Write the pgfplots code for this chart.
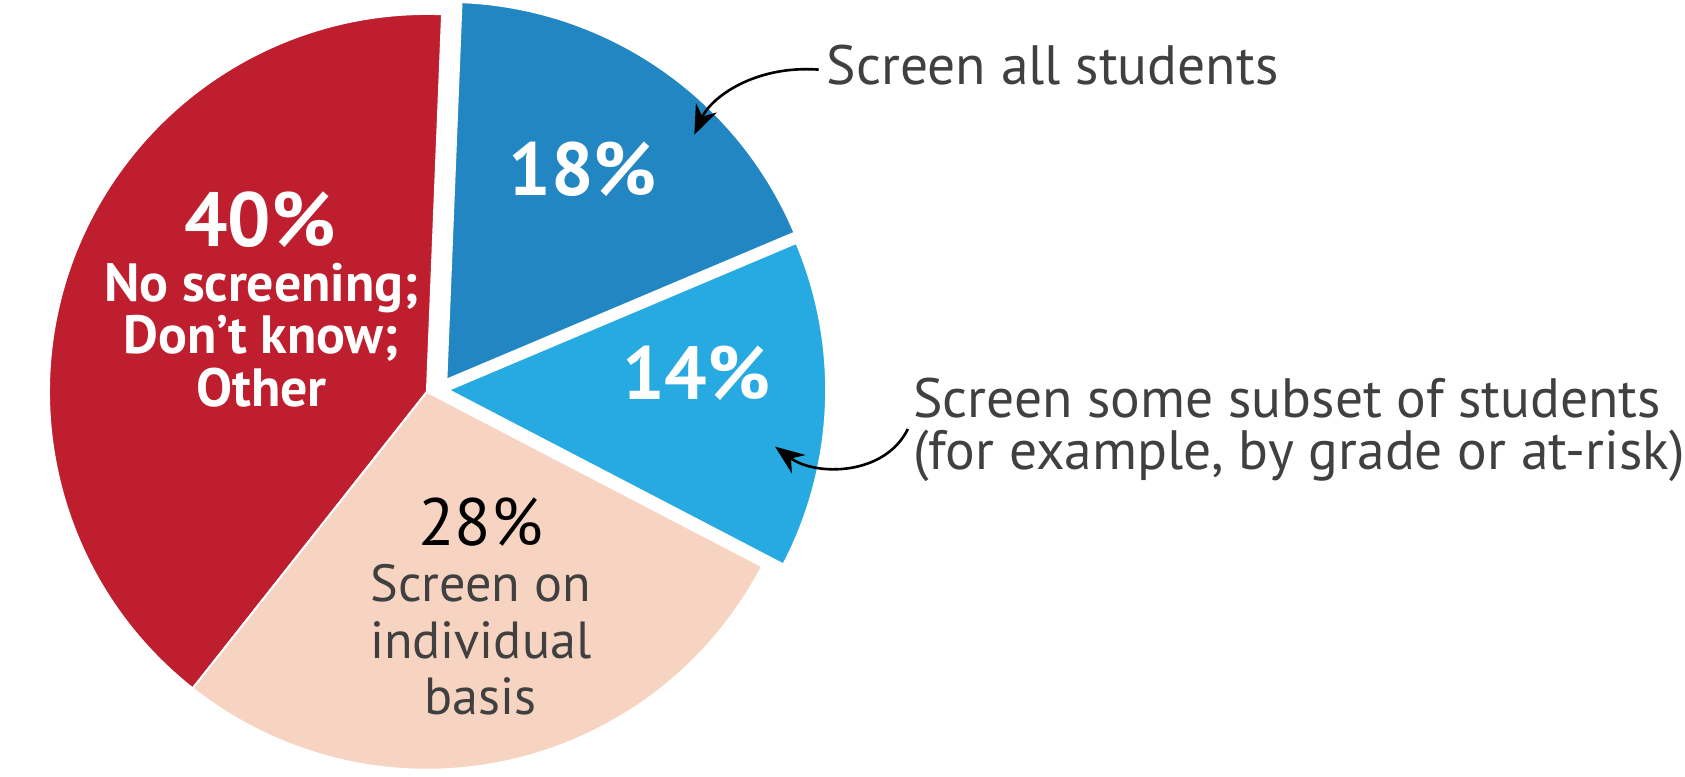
\documentclass[border=0pt]{standalone}
\usepackage{pgfplots}
\pgfplotsset{compat=1.18}
\usepackage{fontspec}
\setmainfont{PT Sans}
\usetikzlibrary{arrows.meta}

\definecolor{pieRed}{HTML}{BE1E2D}
\definecolor{pieDark}{HTML}{2186C1}
\definecolor{pieLight}{HTML}{27AAE1}
\definecolor{piePeach}{HTML}{F7D4C1}
\definecolor{labelGray}{HTML}{404040}

% shares in percent
\def\shareAll{18}
\def\shareSubset{14}
\def\shareIndiv{28}
\def\shareNone{40}
\pgfmathsetmacro\aA{87.7}
\pgfmathsetmacro\aB{\aA-3.6*\shareAll}
\pgfmathsetmacro\aC{\aB-3.6*\shareSubset}
\pgfmathsetmacro\aD{\aC-3.6*\shareIndiv}
\pgfmathsetmacro\aE{\aD-3.6*\shareNone}
\def\R{4.07cm}

\begin{document}
\begin{tikzpicture}
\begin{axis}[
  scale only axis, width=16.85cm, height=8.36cm,
  xmin=0, xmax=1685, ymin=0, ymax=836,
  hide axis, clip=false]
\path (axis cs:0,0) rectangle (axis cs:1685,836);
% slices
\fill[pieRed, draw=white, line width=0.6pt] (axis cs:412,414) -- ++(\aD:\R) arc[start angle=\aD, end angle=\aE, radius=\R] -- cycle;
\fill[piePeach, draw=white, line width=0.6pt] (axis cs:412,414) -- ++(\aC:\R) arc[start angle=\aC, end angle=\aD, radius=\R] -- cycle;
\fill[pieLight, draw=white, line width=0.6pt] (axis cs:435,416) -- ++(\aB:\R) arc[start angle=\aB, end angle=\aC, radius=\R] -- cycle;
\fill[pieDark, draw=white, line width=0.6pt] (axis cs:433,427) -- ++(\aA:\R) arc[start angle=\aA, end angle=\aB, radius=\R] -- cycle;

% labels in slices
\node[anchor=base, inner sep=0, text=white, font=\fontsize{23}{26}\selectfont\bfseries] at (axis cs:580,625) {\shareAll\%};
\node[anchor=base, inner sep=0, text=white, font=\fontsize{23}{26}\selectfont\bfseries] at (axis cs:702,406) {\shareSubset\%};
\node[anchor=base, inner sep=0, text=white, font=\fontsize{23.5}{26}\selectfont\bfseries] at (axis cs:232,570) {\shareNone\%};
\node[anchor=base, inner sep=0, text=white, font=\fontsize{16.5}{19}\selectfont\bfseries] at (axis cs:234,511) {No screening;};
\node[anchor=base, inner sep=0, text=white, font=\fontsize{16.5}{19}\selectfont\bfseries] at (axis cs:234,455) {Don’t know;};
\node[anchor=base, inner sep=0, text=white, font=\fontsize{16.5}{19}\selectfont\bfseries] at (axis cs:234,398) {Other};
\node[anchor=base, inner sep=0, text=black, font=\fontsize{20.5}{24}\selectfont] at (axis cs:470,249) {\shareIndiv\%};
\node[anchor=base, inner sep=0, text=labelGray, font=\fontsize{16}{18}\selectfont] at (axis cs:470,188) {Screen on};
\node[anchor=base, inner sep=0, text=labelGray, font=\fontsize{16}{18}\selectfont] at (axis cs:470,127) {individual};
\node[anchor=base, inner sep=0, text=labelGray, font=\fontsize{16}{18}\selectfont] at (axis cs:470,66) {basis};

% callouts
\node[anchor=base west, inner sep=0, text=labelGray, font=\fontsize{17}{19}\selectfont] at (axis cs:842,745) {Screen all students};
\node[anchor=base west, inner sep=0, text=labelGray, font=\fontsize{17}{19}\selectfont] at (axis cs:935,386) {Screen some subset of students};
\node[anchor=base west, inner sep=0, text=labelGray, font=\fontsize{17}{19}\selectfont] at (axis cs:935,330) {(for example, by grade or at-risk)};
\draw[-{Stealth[length=9pt,width=7pt]}, line width=0.8pt] (axis cs:834,761) .. controls (axis cs:765,766) and (axis cs:718,731) .. (axis cs:700,691);
\draw[-{Stealth[length=9pt,width=7pt]}, line width=0.8pt] (axis cs:930,374) .. controls (axis cs:905,323) and (axis cs:830,323) .. (axis cs:787,355);
\end{axis}
\end{tikzpicture}
\end{document}
